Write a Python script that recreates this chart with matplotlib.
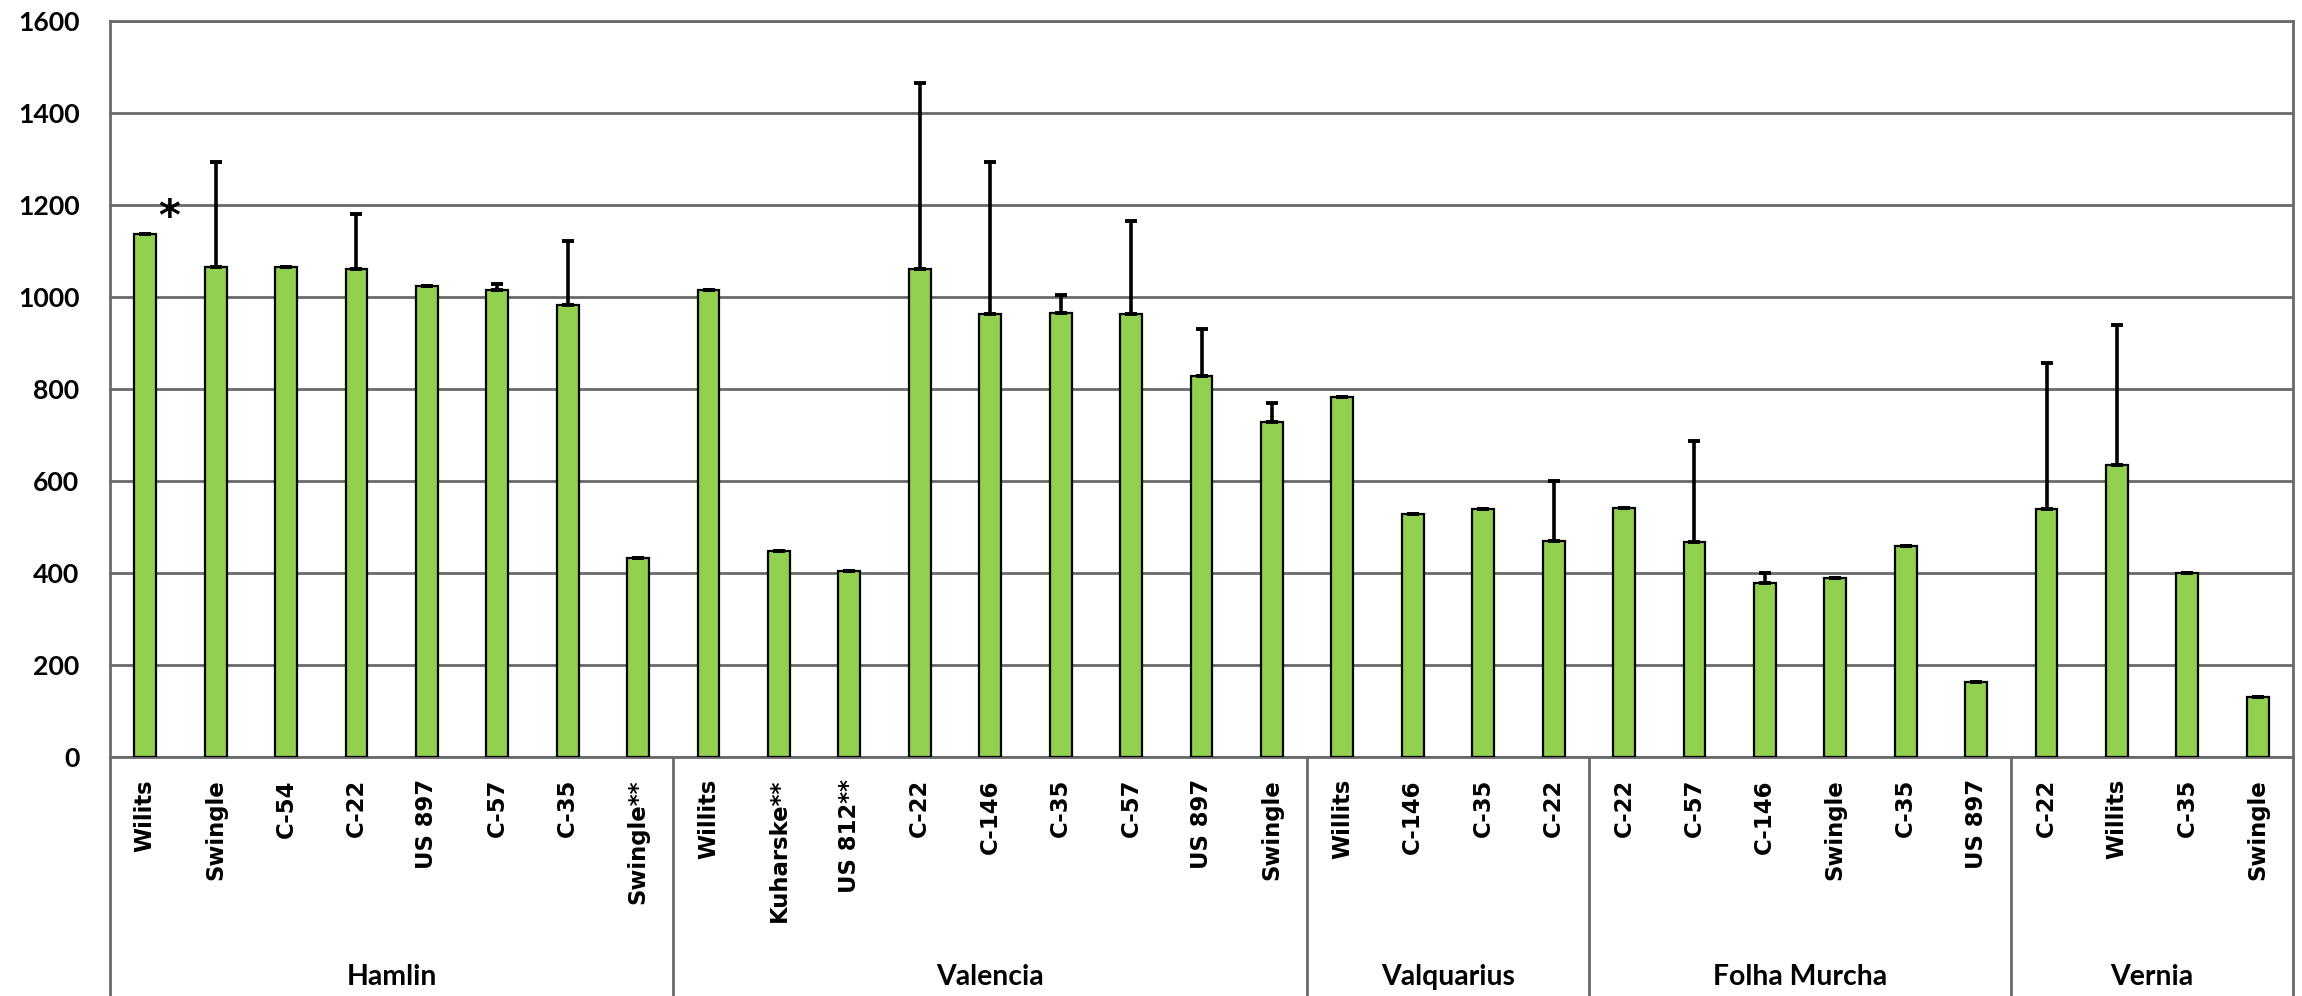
import matplotlib
matplotlib.use("Agg")
import matplotlib.pyplot as plt
import matplotlib.transforms as mtransforms
import numpy as np

# ---- data ----
groups = ["Hamlin", "Valencia", "Valquarius", "Folha Murcha", "Vernia"]
hamlin_labels = ["Wilits", "Swingle", "C-54", "C-22", "US 897", "C-57", "C-35", "Swingle**"]
hamlin_values = [1137, 1066, 1065, 1060, 1024, 1016, 982, 433]
hamlin_err = [0, 228, 0, 120, 0, 12, 140, 0]

valencia_labels = ["Willits", "Kuharske**", "US 812**", "C-22", "C-146", "C-35", "C-57", "US 897", "Swingle"]
valencia_values = [1016, 448, 405, 1060, 963, 965, 962, 829, 728]
valencia_err = [0, 0, 0, 405, 329, 40, 203, 102, 42]

valquarius_labels = ["Willits", "C-146", "C-35", "C-22"]
valquarius_values = [782, 529, 539, 470]
valquarius_err = [0, 0, 0, 130]

folha_labels = ["C-22", "C-57", "C-146", "Swingle", "C-35", "US 897"]
folha_values = [541, 467, 378, 389, 458, 163]
folha_err = [0, 219, 22, 0, 0, 0]

vernia_labels = ["C-22", "Willits", "C-35", "Swingle"]
vernia_values = [540, 634, 400, 131]
vernia_err = [317, 306, 0, 0]

yticks = [0, 200, 400, 600, 800, 1000, 1200, 1400, 1600]

group_labels = [hamlin_labels, valencia_labels, valquarius_labels, folha_labels, vernia_labels]
group_values = [hamlin_values, valencia_values, valquarius_values, folha_values, vernia_values]
group_errs = [hamlin_err, valencia_err, valquarius_err, folha_err, vernia_err]

labels = [l for g in group_labels for l in g]
values = np.array([v for g in group_values for v in g], dtype=float)
errs = np.array([e for g in group_errs for e in g], dtype=float)
sizes = [len(g) for g in group_labels]
x = np.arange(len(values))

# ---- figure ----
W, H = 2302, 996
fig = plt.figure(figsize=(W / 100, H / 100), dpi=100)
renderer = fig.canvas.get_renderer()


def fit_size(s, family, target_px, dim="w", rotation=0, base=20.0):
    t = fig.text(0.5, 0.5, s, fontsize=base, fontweight="bold", family=family, rotation=rotation)
    bb = t.get_window_extent(renderer)
    t.remove()
    cur = bb.width if dim == "w" else bb.height
    return base * target_px / cur


cat_fs = fit_size("Swingle", "DejaVu Sans", 101, dim="h", rotation=90)
tick_fs = fit_size("1600", "Lato", 62, dim="w")
grp_fs = fit_size("Hamlin", "Lato", 90, dim="w")

left, right, top, zero = 110, 2293, 20.7, 757.3
ax = fig.add_axes([left / W, (H - zero) / H, (right - left) / W, (zero - top) / H])

grid_col = "#6a6a6a"
ax.set_ylim(0, 1600)
ax.set_xlim(-0.5, len(values) - 0.5)
ax.set_yticks(yticks)
ax.set_yticklabels([str(v) for v in yticks], fontsize=tick_fs, fontweight="bold", family="Lato")
ax.yaxis.grid(True, color=grid_col, linewidth=2)
ax.set_axisbelow(True)
for s in ax.spines.values():
    s.set_color(grid_col)
    s.set_linewidth(2)

ax.bar(x, values, width=0.31, color="#92D050", edgecolor="black", linewidth=1.6, zorder=3)
ax.errorbar(x, values, yerr=[np.zeros_like(errs), errs], fmt="none", ecolor="black",
            elinewidth=2.6, capsize=4.5, capthick=2.8, zorder=4)

ax.set_xticks([])
ax.tick_params(axis="y", length=0, pad=22)

trans = mtransforms.blended_transform_factory(ax.transData, ax.transAxes)
axh = zero - top
bottom_frac = -(H - zero) / axh

# category labels
for xi, lab in zip(x, labels):
    ax.text(xi, -(779 - zero) / axh, lab, rotation=90, ha="center", va="top",
            transform=trans, fontsize=cat_fs, fontweight="bold", family="DejaVu Sans")

# group separators and labels
bounds = np.concatenate([[0], np.cumsum(sizes)]) - 0.5
for b in bounds:
    ax.plot([b, b], [0, bottom_frac], transform=trans, color=grid_col, linewidth=2,
            clip_on=False, zorder=5)
for gname, a, b in zip(groups, bounds[:-1], bounds[1:]):
    ax.text((a + b) / 2, -(977 - zero) / axh, gname, ha="center", va="center",
            transform=trans, fontsize=grp_fs, fontweight="bold", family="Lato")

# asterisk on the first bar
ax.text(x[0] + 0.34, values[0] + 34, "*", ha="center", va="center",
        fontsize=30, fontweight="bold", family="DejaVu Sans")

fig.savefig("out.png", dpi=100)
